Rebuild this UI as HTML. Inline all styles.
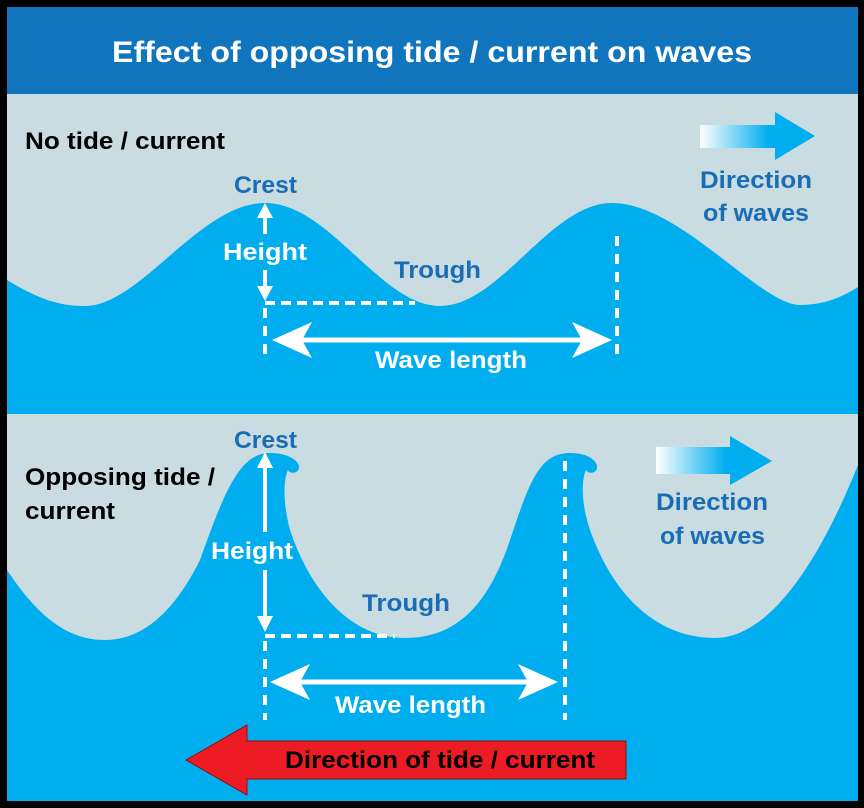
<!DOCTYPE html>
<html><head><meta charset="utf-8"><style>
html,body{margin:0;padding:0;background:#fff}
svg{display:block}
text{font-family:"Liberation Sans",sans-serif;font-weight:bold}
</style></head><body>
<svg width="864" height="808" viewBox="0 0 864 808" xmlns="http://www.w3.org/2000/svg">
<defs>
<linearGradient id="g" x1="0" x2="1" y1="0" y2="0">
<stop offset="0" stop-color="#ffffff"/><stop offset="0.6" stop-color="#00aeef"/><stop offset="1" stop-color="#00aeef"/>
</linearGradient>
</defs>
<rect x="0" y="0" width="864" height="808" fill="#000"/>
<rect x="7" y="7" width="851" height="794" fill="#00aeef"/>
<rect x="7" y="7" width="851" height="87" fill="#1075bc"/>
<text x="432" y="62" fill="#fff" font-size="30" text-anchor="middle" textLength="640" lengthAdjust="spacingAndGlyphs">Effect of opposing tide / current on waves</text>
<!-- panel 1 -->
<rect x="7" y="94" width="851" height="320" fill="#c9dce2"/>
<path d="M7,280 C40,300 60,306 85,306 C140,306 200,203 265,203 C330,203 380,306 440,306 C500,306 550,203 612,203 C680,203 760,305 800,305 C830,305 850,292 858,287 L858,414 L7,414 Z" fill="#00aeef"/>
<text x="25" y="149" font-size="24" fill="#000" textLength="200" lengthAdjust="spacingAndGlyphs">No tide / current</text>
<text x="234" y="193" font-size="24" fill="#1a6db5" textLength="63" lengthAdjust="spacingAndGlyphs">Crest</text>
<text x="394" y="278" font-size="24" fill="#1a6db5" textLength="87" lengthAdjust="spacingAndGlyphs">Trough</text>
<text x="223" y="260" font-size="24" fill="#fff" textLength="84" lengthAdjust="spacingAndGlyphs">Height</text>
<path d="M265,234 V214" stroke="#fff" stroke-width="4"/><path d="M257,218 L265,203 L273,218 Z" fill="#fff"/>
<path d="M265,270 V290" stroke="#fff" stroke-width="4"/><path d="M257,286 L265,301 L273,286 Z" fill="#fff"/>
<path d="M265,303 H415" stroke="#fff" stroke-width="4" stroke-dasharray="10,6"/>
<path d="M265,308 V360" stroke="#fff" stroke-width="4" stroke-dasharray="10,8"/>
<path d="M617,236 V360" stroke="#fff" stroke-width="4" stroke-dasharray="10,8"/>
<path d="M295,340 H590" stroke="#fff" stroke-width="5"/>
<path d="M272,340 L312,322 L302,340 L312,358 Z" fill="#fff"/>
<path d="M612,340 L572,322 L582,340 L572,358 Z" fill="#fff"/>
<text x="375" y="368" font-size="24" fill="#fff" textLength="152" lengthAdjust="spacingAndGlyphs">Wave length</text>
<path d="M700,125 H775 V112 L815,136 L775,160 V148 H700 Z" fill="url(#g)"/>
<text x="700" y="188" font-size="24" fill="#1a6db5" textLength="112" lengthAdjust="spacingAndGlyphs">Direction</text>
<text x="703" y="221" font-size="24" fill="#1a6db5" textLength="106" lengthAdjust="spacingAndGlyphs">of waves</text>
<!-- panel 2 -->
<rect x="7" y="414" width="851" height="230" fill="#c9dce2"/>
<path d="M7,570 C40,620 70,640 105,640 C150,640 180,600 200,560 C225,490 240,453 270,453 C290,453 300,462 299,468 C298,474 290,474 288,470 C284,478 282,500 290,530 C310,590 350,638 405,638 C460,638 490,600 510,540 C530,480 540,453 570,453 C590,453 598,462 597,468 C596,474 588,474 586,470 C582,478 580,500 590,530 C615,600 660,638 715,638 C770,638 820,560 858,465 L858,801 L7,801 Z" fill="#00aeef"/>
<text x="25" y="485" font-size="24" fill="#000" textLength="190" lengthAdjust="spacingAndGlyphs">Opposing tide /</text>
<text x="25" y="519" font-size="24" fill="#000" textLength="90" lengthAdjust="spacingAndGlyphs">current</text>
<text x="234" y="448" font-size="24" fill="#1a6db5" textLength="63" lengthAdjust="spacingAndGlyphs">Crest</text>
<text x="362" y="611" font-size="24" fill="#1a6db5" textLength="88" lengthAdjust="spacingAndGlyphs">Trough</text>
<text x="211" y="559" font-size="24" fill="#fff" textLength="82" lengthAdjust="spacingAndGlyphs">Height</text>
<path d="M265,532 V465" stroke="#fff" stroke-width="4"/><path d="M257,468 L265,452 L273,468 Z" fill="#fff"/>
<path d="M265,570 V618" stroke="#fff" stroke-width="4"/><path d="M257,616 L265,632 L273,616 Z" fill="#fff"/>
<path d="M265,636 H395" stroke="#fff" stroke-width="4" stroke-dasharray="10,6"/>
<path d="M265,641 V720" stroke="#fff" stroke-width="4" stroke-dasharray="10,8"/>
<path d="M565,461 V720" stroke="#fff" stroke-width="4" stroke-dasharray="10,8"/>
<path d="M295,682 H535" stroke="#fff" stroke-width="5"/>
<path d="M270,682 L310,664 L300,682 L310,700 Z" fill="#fff"/>
<path d="M558,682 L518,664 L528,682 L518,700 Z" fill="#fff"/>
<text x="335" y="713" font-size="24" fill="#fff" textLength="151" lengthAdjust="spacingAndGlyphs">Wave length</text>
<path d="M656,447 H730 V436 L772,461 L730,485 V474 H656 Z" fill="url(#g)"/>
<text x="656" y="510" font-size="24" fill="#1a6db5" textLength="112" lengthAdjust="spacingAndGlyphs">Direction</text>
<text x="660" y="544" font-size="24" fill="#1a6db5" textLength="105" lengthAdjust="spacingAndGlyphs">of waves</text>
<path d="M186,760 L247,725 V741 H626 V779 H247 V795 Z" fill="#ed1c24" stroke="#8a1010" stroke-width="1"/>
<text x="285" y="768" font-size="24" fill="#000" textLength="310" lengthAdjust="spacingAndGlyphs">Direction of tide / current</text>
</svg>
</body></html>
